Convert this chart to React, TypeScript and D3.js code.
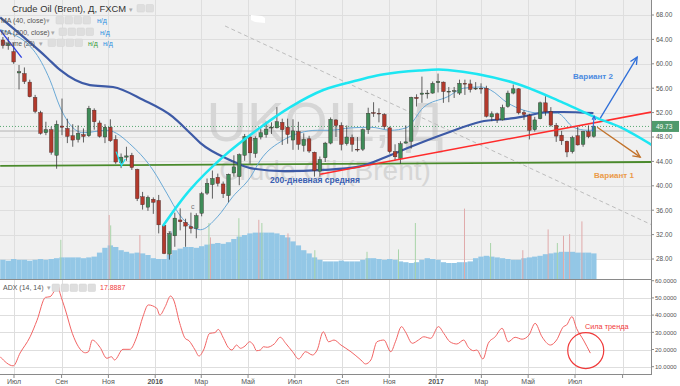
import React from 'react';
import * as d3 from 'd3';

// weekly candles: date (monday), open, high, low, close, volume
const candles: [string, number, number, number, number, number][] = [
  ['2015-06-15', 63.9, 64.4, 62.5, 63.0, 24], ['2015-06-22', 63.0, 64.4, 62.3, 63.3, 23],
  ['2015-06-29', 62.0, 63.5, 60.0, 60.3, 25], ['2015-07-06', 58.5, 59.8, 55.8, 58.7, 24],
  ['2015-07-13', 58.4, 59.4, 56.7, 57.1, 24], ['2015-07-20', 57.0, 57.4, 54.5, 54.6, 23],
  ['2015-07-27', 54.5, 54.9, 51.9, 52.2, 24], ['2015-08-03', 52.0, 52.3, 48.4, 48.6, 25],
  ['2015-08-10', 48.7, 50.5, 48.3, 49.2, 24], ['2015-08-17', 49.2, 49.7, 45.1, 45.5, 25],
  ['2015-08-24', 45.0, 50.7, 42.8, 50.1, 26], ['2015-08-31', 49.8, 54.3, 48.3, 49.6, 27],
  ['2015-09-07', 49.4, 51.0, 47.0, 48.1, 27], ['2015-09-14', 48.2, 50.1, 46.4, 47.5, 27],
  ['2015-09-21', 47.6, 49.9, 47.1, 48.6, 27], ['2015-09-28', 48.4, 49.4, 47.1, 48.1, 26],
  ['2015-10-05', 48.2, 53.1, 48.0, 52.7, 27], ['2015-10-12', 52.4, 52.7, 49.2, 50.5, 28],
  ['2015-10-19', 50.3, 50.7, 47.9, 48.1, 33], ['2015-10-26', 48.0, 50.1, 47.0, 49.6, 39],
  ['2015-11-02', 49.6, 50.9, 47.2, 47.4, 42], ['2015-11-09', 47.6, 48.3, 43.6, 43.9, 40],
  ['2015-11-16', 43.8, 45.3, 42.9, 44.7, 36], ['2015-11-23', 44.7, 46.4, 44.1, 44.9, 34],
  ['2015-11-30', 45.0, 45.4, 42.6, 43.0, 32], ['2015-12-07', 42.7, 42.8, 37.5, 37.9, 33],
  ['2015-12-14', 38.2, 39.0, 36.1, 36.9, 32], ['2015-12-21', 36.5, 38.4, 35.9, 38.1, 30],
  ['2015-12-28', 37.8, 38.1, 35.4, 37.3, 26], ['2016-01-04', 37.6, 38.5, 32.2, 33.6, 25],
  ['2016-01-11', 33.5, 33.8, 28.8, 28.9, 25], ['2016-01-18', 28.8, 32.5, 27.9, 32.2, 30],
  ['2016-01-25', 31.8, 35.6, 30.0, 34.7, 36], ['2016-02-01', 34.4, 36.3, 32.7, 34.1, 38],
  ['2016-02-08', 34.0, 34.6, 30.0, 33.4, 40], ['2016-02-15', 33.3, 35.6, 32.2, 33.0, 40],
  ['2016-02-22', 33.0, 35.5, 31.4, 35.1, 39], ['2016-02-29', 35.5, 39.0, 35.0, 38.7, 41],
  ['2016-03-07', 38.8, 41.2, 38.5, 40.4, 43], ['2016-03-14', 40.2, 42.5, 37.9, 41.2, 44],
  ['2016-03-21', 41.4, 42.0, 39.9, 40.4, 45], ['2016-03-28', 40.3, 40.7, 38.0, 38.7, 44],
  ['2016-04-04', 38.4, 42.0, 37.3, 41.9, 46], ['2016-04-11', 42.1, 45.0, 41.5, 43.1, 50],
  ['2016-04-18', 41.5, 45.3, 40.1, 45.1, 53], ['2016-04-25', 45.0, 48.5, 44.1, 48.1, 55],
  ['2016-05-02', 48.0, 48.4, 43.6, 45.4, 57], ['2016-05-09', 45.3, 48.1, 44.6, 47.8, 58],
  ['2016-05-16', 48.0, 49.4, 47.6, 48.7, 58], ['2016-05-23', 48.4, 50.5, 47.9, 49.3, 58],
  ['2016-05-30', 49.5, 50.4, 48.5, 49.6, 58], ['2016-06-06', 49.5, 52.9, 49.4, 50.5, 57],
  ['2016-06-13', 50.4, 51.0, 46.7, 49.2, 55], ['2016-06-20', 49.6, 51.0, 46.9, 48.4, 52],
  ['2016-06-27', 47.5, 50.9, 45.9, 49.0, 47], ['2016-07-04', 48.9, 50.5, 45.9, 46.8, 42],
  ['2016-07-11', 46.6, 48.6, 45.6, 47.6, 36], ['2016-07-18', 47.7, 48.2, 45.4, 45.7, 32],
  ['2016-07-25', 45.5, 45.6, 41.5, 42.5, 27], ['2016-08-01', 42.4, 44.8, 41.5, 44.3, 24],
  ['2016-08-08', 44.6, 47.2, 43.9, 47.0, 22], ['2016-08-15', 47.0, 51.2, 46.8, 50.9, 22],
  ['2016-08-22', 50.8, 50.9, 48.0, 49.9, 22], ['2016-08-29', 49.9, 50.4, 45.8, 46.8, 23],
  ['2016-09-05', 46.9, 49.9, 46.6, 48.0, 22], ['2016-09-12', 47.9, 48.4, 45.6, 46.8, 22],
  ['2016-09-19', 46.0, 48.0, 45.6, 45.9, 22], ['2016-09-26', 46.0, 49.4, 45.7, 49.2, 24],
  ['2016-10-03', 49.2, 52.8, 48.5, 51.9, 26], ['2016-10-10', 52.0, 53.7, 51.3, 51.95, 26],
  ['2016-10-17', 51.9, 52.7, 50.4, 51.8, 25], ['2016-10-24', 51.7, 51.9, 49.3, 49.7, 24],
  ['2016-10-31', 49.5, 49.7, 45.3, 45.6, 25], ['2016-11-07', 45.6, 46.8, 44.2, 44.75, 24],
  ['2016-11-14', 44.5, 47.3, 43.6, 46.9, 22], ['2016-11-21', 47.0, 49.9, 46.9, 47.2, 21],
  ['2016-11-28', 47.3, 54.6, 46.1, 54.5, 20], ['2016-12-05', 54.5, 55.0, 53.0, 54.3, 21],
  ['2016-12-12', 55.0, 57.9, 53.6, 55.2, 24], ['2016-12-19', 55.2, 55.7, 54.3, 55.2, 26],
  ['2016-12-26', 55.2, 57.1, 55.1, 56.8, 25], ['2017-01-02', 56.9, 58.4, 55.3, 57.1, 24],
  ['2017-01-09', 57.0, 57.1, 53.6, 55.45, 21], ['2017-01-16', 55.5, 56.2, 53.7, 55.5, 20],
  ['2017-01-23', 55.5, 56.2, 54.4, 55.6, 20], ['2017-01-30', 55.2, 57.4, 54.9, 56.8, 21],
  ['2017-02-06', 56.8, 57.4, 54.9, 56.7, 21], ['2017-02-13', 56.7, 57.4, 55.3, 55.8, 22],
  ['2017-02-20', 55.9, 57.0, 55.7, 56.0, 26], ['2017-02-27', 56.0, 56.8, 55.1, 55.9, 28],
  ['2017-03-06', 56.0, 56.4, 51.2, 51.4, 29], ['2017-03-13', 51.3, 52.2, 50.6, 51.8, 28],
  ['2017-03-20', 51.8, 52.0, 50.3, 50.8, 27], ['2017-03-27', 50.8, 53.3, 50.7, 52.8, 26],
  ['2017-04-03', 53.0, 55.6, 52.8, 55.2, 25], ['2017-04-10', 55.2, 56.6, 55.0, 55.9, 24],
  ['2017-04-17', 55.9, 56.0, 51.7, 51.96, 24], ['2017-04-24', 52.0, 52.4, 50.8, 51.7, 26],
  ['2017-05-01', 51.5, 51.8, 47.6, 49.1, 27], ['2017-05-08', 49.2, 51.3, 48.9, 50.8, 28],
  ['2017-05-15', 51.0, 53.8, 50.9, 53.6, 29], ['2017-05-22', 53.6, 54.7, 51.5, 52.15, 31],
  ['2017-05-29', 52.2, 52.9, 49.7, 49.95, 32], ['2017-06-05', 49.9, 50.3, 47.2, 48.15, 33],
  ['2017-06-12', 48.3, 49.0, 46.7, 47.37, 34], ['2017-06-19', 47.3, 47.4, 44.7, 45.54, 34],
  ['2017-06-26', 45.6, 48.2, 45.3, 47.9, 34], ['2017-07-03', 48.2, 49.7, 46.6, 46.7, 33],
  ['2017-07-10', 46.8, 49.0, 46.4, 48.9, 33], ['2017-07-17', 48.9, 49.9, 47.8, 48.06, 33],
  ['2017-07-24', 48.1, 49.9, 47.9, 49.73, 32],
];

// tallest daily volume spikes: date, volume, 1 = up day
const volumeSpikes: [string, number, number][] = [
  ['2015-08-31', 49, 1], ['2015-11-02', 80, 0], ['2015-11-04', 67, 1], ['2015-12-12', 55, 0],
  ['2016-03-11', 70, 1], ['2016-03-13', 52, 0], ['2016-04-19', 76, 1], ['2016-05-15', 74, 0],
  ['2016-05-19', 70, 1], ['2016-06-22', 57, 0], ['2016-07-27', 36, 1], ['2016-10-03', 34, 1],
  ['2016-11-13', 37, 1], ['2016-12-05', 70, 1], ['2017-02-07', 88, 0], ['2017-03-13', 45, 1],
  ['2017-04-24', 36, 0], ['2017-05-27', 62, 0], ['2017-06-08', 45, 1], ['2017-06-16', 54, 0],
  ['2017-06-24', 56, 0], ['2017-07-10', 72, 0],
];

const ma40: [string, number][] = [
  ['2015-06-13', 65.6], ['2015-07-26', 62.3], ['2015-08-17', 57.3], ['2015-08-30', 52.9],
  ['2015-09-29', 48.7], ['2015-10-30', 49.1], ['2015-12-03', 46.4], ['2015-12-29', 42.6],
  ['2016-01-16', 38.8], ['2016-02-02', 35.2], ['2016-02-29', 32.8], ['2016-03-22', 34.9],
  ['2016-04-11', 38.2], ['2016-05-04', 41.4], ['2016-05-17', 44.2], ['2016-06-16', 47.5],
  ['2016-07-08', 48.7], ['2016-07-30', 49.1], ['2016-08-16', 49.1], ['2016-09-12', 49.5],
  ['2016-10-08', 49.6], ['2016-11-03', 49.1], ['2016-11-23', 49.5], ['2016-12-16', 52.9],
  ['2017-01-16', 54.6], ['2017-02-06', 56.0], ['2017-02-28', 56.2], ['2017-03-13', 55.7],
  ['2017-04-04', 53.6], ['2017-04-25', 52.4], ['2017-05-17', 51.9], ['2017-06-08', 51.9],
  ['2017-06-29', 49.6], ['2017-07-17', 49.1], ['2017-07-25', 49.1],
];

const ma200: [string, number][] = [
  ['2015-06-13', 67.6], ['2015-08-13', 61.0], ['2015-08-30', 59.0], ['2015-10-08', 56.5],
  ['2015-11-07', 56.2], ['2015-12-16', 54.1], ['2016-01-24', 51.3], ['2016-02-15', 48.7],
  ['2016-02-29', 47.0], ['2016-04-08', 44.2], ['2016-05-04', 42.9], ['2016-06-16', 42.4],
  ['2016-08-07', 42.6], ['2016-09-21', 43.1], ['2016-11-03', 45.05], ['2016-11-29', 46.4],
  ['2017-01-16', 48.7], ['2017-02-28', 50.5], ['2017-04-12', 51.1], ['2017-05-04', 51.6],
  ['2017-05-26', 52.1], ['2017-06-16', 52.1], ['2017-07-25', 51.9],
];

const adx: [string, number][] = [
  ['2015-06-13', 15.8], ['2015-06-30', 10.5], ['2015-07-09', 18], ['2015-07-22', 27.4],
  ['2015-07-31', 37], ['2015-08-11', 50.3], ['2015-08-17', 50.7], ['2015-08-22', 53.6],
  ['2015-08-27', 57.5], ['2015-08-30', 52.7], ['2015-09-06', 43], ['2015-09-15', 29.4],
  ['2015-09-23', 21.6], ['2015-10-02', 18.1], ['2015-10-06', 18.7], ['2015-10-11', 25.5],
  ['2015-10-21', 21.3], ['2015-10-30', 14.9], ['2015-11-05', 15.8], ['2015-11-09', 13.9],
  ['2015-11-20', 20.1], ['2015-11-29', 20.1], ['2015-12-08', 27.4], ['2015-12-16', 39.1],
  ['2015-12-23', 45.9], ['2016-01-03', 44], ['2016-01-07', 40], ['2016-01-14', 44.9],
  ['2016-01-21', 51.1], ['2016-01-25', 48.8], ['2016-02-02', 35.2], ['2016-02-09', 26.5],
  ['2016-02-14', 25.1], ['2016-02-22', 19.7], ['2016-02-27', 16.2], ['2016-03-04', 19.7],
  ['2016-03-12', 29.4], ['2016-03-19', 29.8], ['2016-03-23', 31.7], ['2016-03-30', 26.5],
  ['2016-04-05', 21.3], ['2016-04-10', 19.7], ['2016-04-16', 22.6], ['2016-04-21', 20.7],
  ['2016-04-27', 22], ['2016-05-03', 24.5], ['2016-05-08', 22.6], ['2016-05-12', 19.3],
  ['2016-05-17', 19.7], ['2016-05-21', 21.6], ['2016-05-26', 21.3], ['2016-06-04', 23.2],
  ['2016-06-12', 27.1], ['2016-06-19', 23.6], ['2016-06-28', 18.7], ['2016-07-06', 14.5],
  ['2016-07-15', 18.7], ['2016-07-24', 16.8], ['2016-07-30', 19.7], ['2016-08-07', 30.3],
  ['2016-08-14', 24.5], ['2016-08-21', 25.5], ['2016-08-30', 22.6], ['2016-09-12', 18.7],
  ['2016-09-25', 13.9], ['2016-10-01', 11.6], ['2016-10-08', 13.9], ['2016-10-16', 24.5],
  ['2016-10-25', 25.5], ['2016-11-03', 18.7], ['2016-11-09', 24.5], ['2016-11-17', 33.3],
  ['2016-11-22', 30.3], ['2016-12-01', 23.6], ['2016-12-09', 25.5], ['2016-12-16', 27.4],
  ['2016-12-25', 26.5], ['2017-01-04', 33.3], ['2017-01-11', 29.4], ['2017-01-19', 24.5],
  ['2017-01-28', 23.2], ['2017-02-06', 25.5], ['2017-02-12', 21.3], ['2017-02-19', 19.3],
  ['2017-02-23', 19.7], ['2017-03-03', 14.5], ['2017-03-10', 23.6], ['2017-03-19', 27.4],
  ['2017-03-28', 32.3], ['2017-04-05', 24.5], ['2017-04-14', 27.1], ['2017-04-23', 26],
  ['2017-05-02', 28.4], ['2017-05-10', 35.2], ['2017-05-19', 27.4], ['2017-05-30', 22.6],
  ['2017-06-07', 25.5], ['2017-06-16', 33.3], ['2017-06-20', 34.2], ['2017-06-27', 39.1],
  ['2017-07-03', 32.3], ['2017-07-12', 25.5], ['2017-07-21', 17.9],
];

// drawings on the chart (date, price)
const arcPoints: [string, number][] = [
  ['2016-01-11', 33.4], ['2016-02-15', 39.3], ['2016-03-29', 44.7], ['2016-05-12', 49.1],
  ['2016-06-25', 52.9], ['2016-08-07', 55.7], ['2016-09-21', 57.3], ['2016-10-21', 58.2],
  ['2016-12-10', 58.9], ['2017-01-16', 59.0], ['2017-04-12', 56.9], ['2017-06-16', 53.6],
  ['2017-07-30', 51.1], ['2017-08-29', 49.6], ['2017-10-09', 46.7],
];
const redTrend: [string, number][] = [['2016-08-03', 41.9], ['2017-10-09', 52.1]];
const greenSupport: [string, number][] = [['2015-06-13', 43.25], ['2017-10-09', 43.9]];
const dashedTrend: [string, number][] = [['2016-04-01', 66.2], ['2017-10-09', 33.6]];
const blueShort: [string, number][] = [['2015-06-13', 65.5], ['2015-07-11', 61.0]];
const cyanSmall: [string, number][] = [['2015-11-11', 45.6], ['2015-11-18', 43.3], ['2015-11-23', 44.4]];
const variant2: [string, number][] = [['2017-08-03', 51.1], ['2017-09-20', 61.1]];
const variant1: [string, number][] = [['2017-07-30', 49.6], ['2017-09-24', 44.7]];
const smallUp: [string, number][] = [['2017-07-24', 48.9], ['2017-07-26', 51.4]];

const priceTicks = [28, 32, 36, 40, 44, 48, 52, 56, 60, 64, 68];
const adxTicks = [10, 20, 30, 40, 50, 60];
const monthNames = ['Янв', 'Фев', 'Мар', 'Апр', 'Май', 'Июн', 'Июл', 'Авг', 'Сен', 'Окт', 'Ноя', 'Дек'];
const lastPrice = 49.73;
const levelLine = 48.98;
const lastAdx = '17.8887';

const parse = d3.timeParse('%Y-%m-%d');
const P = (s: string) => parse(s) as Date;

const PANE_R = 651;
const FONT = '"Liberation Sans", Arial, sans-serif';

function head(x1: number, y1: number, x2: number, y2: number, len = 7, spread = 0.45) {
  const a = Math.atan2(y2 - y1, x2 - x1);
  const p1 = [x2 - len * Math.cos(a - spread), y2 - len * Math.sin(a - spread)];
  const p2 = [x2 - len * Math.cos(a + spread), y2 - len * Math.sin(a + spread)];
  return `M${p1[0]},${p1[1]}L${x2},${y2}L${p2[0]},${p2[1]}`;
}

export default function App() {
  const x = d3.scaleTime().domain([P('2015-07-01'), P('2017-07-01')]).range([14, 575]);
  const y = d3.scaleLinear().domain([28, 68]).range([259, 15]);
  const yVol = d3.scaleLinear().domain([0, 100]).range([279, 199]);
  const yAdx = d3.scaleLinear().domain([10, 60]).range([366.7, 280.7]);

  const line = (pts: [string, number][], sy = y, curve: d3.CurveFactory = d3.curveLinear) =>
    d3.line<[string, number]>().x(d => x(P(d[0]))).y(d => sy(d[1])).curve(curve)(pts) || '';

  const monthTicks = d3.timeMonth.every(2)!.range(P('2015-07-01'), P('2017-10-01'));
  const weekPx = x(P('2015-07-08')) - x(P('2015-07-01'));
  const cx = (s: string) => x(P(s)) + weekPx * 0.22;

  const arrow = (pts: [string, number][], color: string, w = 1.3, len = 7) => {
    const x1 = x(P(pts[0][0])), y1 = y(pts[0][1]);
    const x2 = x(P(pts[1][0])), y2 = y(pts[1][1]);
    return (
      <g stroke={color} strokeWidth={w} fill="none">
        <path d={`M${x1},${y1}L${x2},${y2}`} />
        <path d={head(x1, y1, x2, y2, len)} />
      </g>
    );
  };

  const iconBoxes = (x0: number, yy: number, n: number) =>
    d3.range(n).map(i => (
      <rect key={i} x={x0 + i * 9} y={yy} width={7.5} height={7.5} rx={1} fill="#dedede" stroke="#d2d2d2" strokeWidth={0.5} />
    ));

  return (
    <svg width={680} height={386} style={{ position: 'absolute', left: 0, top: 0, fontFamily: FONT }}>
      <defs>
        <clipPath id="mainClip"><rect x={0} y={0} width={PANE_R} height={279} /></clipPath>
        <clipPath id="adxClip"><rect x={0} y={280} width={PANE_R} height={94} /></clipPath>
      </defs>
      <rect width={680} height={386} fill="#ffffff" />
      <rect x={0} y={0} width={PANE_R} height={y(28)} fill="#f0f0f0" />

      {/* grid */}
      <g stroke="#dedede" strokeWidth={1}>
        {priceTicks.map(t => <line key={t} x1={0} x2={PANE_R} y1={Math.round(y(t)) + 0.5} y2={Math.round(y(t)) + 0.5} />)}
        {monthTicks.map(t => <line key={+t} x1={Math.round(x(t)) + 0.5} x2={Math.round(x(t)) + 0.5} y1={0} y2={374} />)}
        {adxTicks.slice(0, 5).map(t => <line key={t} x1={0} x2={PANE_R} y1={Math.round(yAdx(t)) + 0.5} y2={Math.round(yAdx(t)) + 0.5} />)}
      </g>

      {/* watermark */}
      <g fill="#d6d6d6" textAnchor="middle">
        <text x={325} y={141} fontSize={56}>UKOIL, Д</text>
        <text x={325} y={180} fontSize={28}>Crude Oil (Brent)</text>
      </g>

      <g clipPath="url(#mainClip)">
        {/* volume */}
        {candles.map(c => (
          <rect key={'v' + c[0]} x={x(P(c[0])) - weekPx * 0.28} width={weekPx} y={yVol(c[5])} height={yVol(0) - yVol(c[5])} fill="#93c7e6" />
        ))}
        {volumeSpikes.map(s => (
          <line key={'s' + s[0]} x1={x(P(s[0]))} x2={x(P(s[0]))} y1={yVol(0)} y2={yVol(s[1])} stroke={s[2] ? '#a9d4a9' : '#e0aaaa'} strokeWidth={1} />
        ))}

        {/* levels */}
        <line x1={0} x2={PANE_R} y1={y(levelLine)} y2={y(levelLine)} stroke="#b4b4b4" strokeWidth={1} />
        <line x1={0} x2={PANE_R} y1={y(lastPrice)} y2={y(lastPrice)} stroke="#5aa872" strokeWidth={1} strokeDasharray="1,2" />
        <path d={line(dashedTrend)} stroke="#bdbdbd" strokeWidth={1} strokeDasharray="4,3" fill="none" />
        <path d={line(greenSupport)} stroke="#4a8a2c" strokeWidth={1.8} fill="none" />

        {/* moving averages */}
        <path d={line(ma40, y, d3.curveMonotoneX)} stroke="#6aa9d6" strokeWidth={1} fill="none" />
        <path d={line(ma200, y, d3.curveMonotoneX)} stroke="#3d5aa6" strokeWidth={2.2} fill="none" />

        {/* candles */}
        {candles.map(c => {
          const up = c[4] >= c[1];
          const xc = cx(c[0]);
          const top = y(Math.max(c[1], c[4]));
          const bot = y(Math.min(c[1], c[4]));
          return (
            <g key={'c' + c[0]}>
              <line x1={xc} x2={xc} y1={y(c[2])} y2={y(c[3])} stroke="#3a3a3a" strokeWidth={0.8} />
              <rect x={xc - 1.8} width={3.6} y={top} height={Math.max(0.8, bot - top)} fill={up ? '#3e8c58' : '#b3392c'} stroke="#3a2a2a" strokeWidth={0.4} />
            </g>
          );
        })}

        {/* drawings */}
        <path d={line(blueShort)} stroke="#2b3fe0" strokeWidth={1.3} fill="none" />
        <path d={line(cyanSmall)} stroke="#1fe3ef" strokeWidth={1.3} fill="none" />
        <path d={line(redTrend)} stroke="#ff2b2b" strokeWidth={1.5} fill="none" />
        <path d={line(arcPoints, y, d3.curveCatmullRom)} stroke="#1de6f2" strokeWidth={2.5} fill="none" />
        {arrow(variant2, '#2f6fd8', 1.3, 8)}
        {arrow(variant1, '#c2722a', 1.3, 8)}
        {arrow(smallUp, '#2f6fd8', 1.2, 4)}
      </g>

      {/* annotation labels */}
      <text x={168} y={235} fontSize={7} fill="#777">a</text>
      <text x={191} y={209} fontSize={7} fill="#777">c</text>
      <text x={315} y={183} fontSize={8.5} fontWeight="bold" fill="#3b5fb2" textAnchor="middle">200-дневная средняя</text>
      <text x={593} y={79} fontSize={8} fontWeight="bold" fill="#4a8ae0" textAnchor="middle">Вариант 2</text>
      <text x={614} y={178} fontSize={8} fontWeight="bold" fill="#eb9a48" textAnchor="middle">Вариант 1</text>
      <path d="M251,15 L262,16 L265,18 L265,23 L255,22 L251,20 Z" fill="#ffffff" />

      {/* header */}
      <g fontSize={9.4} fill="#333">
        <text x={12} y={12}>Crude Oil (Brent), Д, FXCM</text>
        <text x={129} y={12} fontSize={7} fill="#aaa">▾</text>
      </g>
      {iconBoxes(137, 4.5, 2)}
      <g fontSize={7} fill="#555">
        <text x={1} y={23}>MA (40, close)</text>
        <text x={46} y={23} fill="#aaa">▾</text>
        <text x={97} y={23} fill="#2f8fe0">н/д</text>
        <text x={1} y={34.5}>MA (200, close)</text>
        <text x={51} y={34.5} fill="#aaa">▾</text>
        <text x={100} y={34.5} fill="#2f8fe0">н/д</text>
        <text x={1} y={45.5} fontSize={6.3}>Volume (20)</text>
        <text x={39} y={45.5} fill="#aaa">▾</text>
        <text x={88} y={45.5} fill="#3a9a3a">н/д</text>
        <text x={103} y={45.5} fill="#2f8fe0">н/д</text>
      </g>
      {iconBoxes(56, 16.5, 4)}
      {iconBoxes(59, 28, 4)}
      {iconBoxes(48, 39, 4)}

      {/* ADX pane */}
      <g clipPath="url(#adxClip)">
        <path d={line(adx, yAdx, d3.curveMonotoneX)} stroke="#f26464" strokeWidth={1} fill="none" />
      </g>
      <circle cx={x(P('2017-07-15'))} cy={yAdx(19.4)} r={18} fill="none" stroke="#f03a3a" strokeWidth={1.2} />
      <text x={585} y={329} fontSize={7.3} fill="#f03a3a">Сила тренда</text>
      <text x={3} y={290} fontSize={7} fill="#555">ADX (14, 14)</text>
      <text x={47} y={290} fontSize={7} fill="#aaa">▾</text>
      {iconBoxes(52, 284, 5)}
      <text x={100} y={290} fontSize={7} fill="#f03a3a">{lastAdx}</text>

      {/* frame */}
      <line x1={0} x2={PANE_R} y1={279.5} y2={279.5} stroke="#8a8a8a" />
      <line x1={0} x2={PANE_R} y1={374.5} y2={374.5} stroke="#8a8a8a" />
      <line x1={PANE_R + 0.5} x2={PANE_R + 0.5} y1={0} y2={375} stroke="#8a8a8a" />

      {/* price axis */}
      <g fontSize={6.5} fill="#555">
        {priceTicks.map(t => (
          <g key={t}>
            <line x1={PANE_R} x2={PANE_R + 3} y1={y(t)} y2={y(t)} stroke="#8a8a8a" />
            <text x={656} y={y(t) + 2.3}>{t.toFixed(2)}</text>
          </g>
        ))}
        {adxTicks.map(t => (
          <g key={'a' + t}>
            <line x1={PANE_R} x2={PANE_R + 3} y1={yAdx(t)} y2={yAdx(t)} stroke="#8a8a8a" />
            <text x={655} y={yAdx(t) + 2.3} fontSize={6}>{t.toFixed(4)}</text>
          </g>
        ))}
      </g>
      <rect x={652} y={y(lastPrice) - 5.5} width={27} height={11} fill="#4f9a6c" />
      <text x={656} y={y(lastPrice) + 2.3} fontSize={6.5} fill="#fff">{lastPrice.toFixed(2)}</text>

      {/* time axis */}
      <g fontSize={7} fill="#555" textAnchor="middle">
        {monthTicks.map(t => (
          <g key={'t' + +t}>
            <line x1={x(t)} x2={x(t)} y1={375} y2={378} stroke="#8a8a8a" />
            {x(t) < 600 && (
              <text x={x(t)} y={383.5} fontWeight={t.getMonth() === 0 ? 'bold' : 'normal'}>
                {t.getMonth() === 0 ? t.getFullYear() : monthNames[t.getMonth()]}
              </text>
            )}
          </g>
        ))}
      </g>
    </svg>
  );
}
